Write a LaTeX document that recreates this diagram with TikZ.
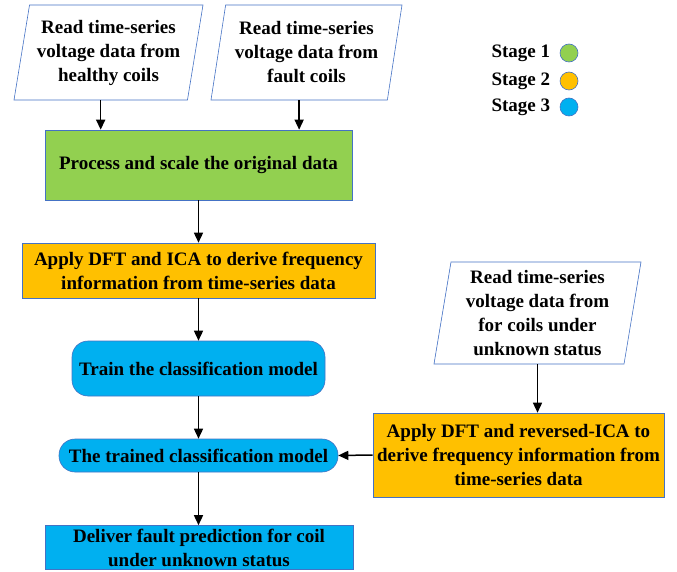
\documentclass[tikz,border=0pt]{standalone}
\usepackage{fontspec}
\setmainfont{Liberation Serif}
\usetikzlibrary{shapes.geometric,arrows.meta,positioning}
\definecolor{stageone}{HTML}{92D050}
\definecolor{stagetwo}{HTML}{FFC000}
\definecolor{stagethree}{HTML}{00B0F0}
\definecolor{edgeblue}{HTML}{4472C4}

\begin{document}
\begin{tikzpicture}[x=1pt,y=-1pt,
    font=\fontsize{19}{24}\selectfont\bfseries,
    inbox/.style={draw=edgeblue,line width=0.6pt,trapezium,trapezium left angle=77,trapezium right angle=103,trapezium stretches body,align=center,inner sep=1pt},
    box/.style={draw=edgeblue,line width=0.6pt,align=center,inner sep=0pt},
    dot/.style={circle,draw=edgeblue,line width=0.6pt,minimum size=18pt,inner sep=0pt},
    flow/.style={-{Triangle[length=10pt,width=9pt]},line width=1.5pt}]
    \useasboundingbox (0,0) rectangle (677,572);

    % input data
    \node[inbox,minimum width=189pt,minimum height=95pt] (healthy) at (108.5,52.5) {Read time-series\\voltage data from\\healthy coils};
    \node[inbox,minimum width=191pt,minimum height=95pt] (fault) at (306.5,52.5) {Read time-series\\voltage data from\\fault coils};
    \node[inbox,trapezium left angle=79,trapezium right angle=101,minimum width=207pt,minimum height=102pt] (unknown) at (537.5,313) {Read time-series\\voltage data from\\for coils under\\unknown status};

    % main flow
    \node[box,fill=stageone,minimum width=307pt,minimum height=70pt] (scale) at (198.5,165) {Process and scale the original data};
    \node[box,fill=stagetwo,minimum width=353pt,minimum height=55pt] (dft) at (198.5,270.5) {Apply DFT and ICA to derive frequency\\information from time-series data};
    \node[box,fill=stagethree,rounded corners=16pt,minimum width=253pt,minimum height=55pt] (train) at (198.5,368.5) {Train the classification model};
    \node[box,fill=stagethree,rounded corners=16pt,minimum width=279pt,minimum height=33pt] (trained) at (198.5,455.5) {The trained classification model};
    \node[box,fill=stagethree,minimum width=308pt,minimum height=44pt] (predict) at (199,547.5) {Deliver fault prediction for coil\\under unknown status};
    \node[box,fill=stagetwo,minimum width=291pt,minimum height=84pt] (rdft) at (518.5,455) {Apply DFT and reversed-ICA to\\derive frequency information from\\time-series data};

    % legend
    \node[dot,fill=stageone] (dot1) at (569,53) {};
    \node[dot,fill=stagetwo] (dot2) at (569,81) {};
    \node[dot,fill=stagethree] (dot3) at (569,107) {};
    \node[left=6pt of dot1] (stage1) {Stage 1};
    \node[left=6pt of dot2] (stage2) {Stage 2};
    \node[left=6pt of dot3] (stage3) {Stage 3};

    \draw[flow](healthy.bottom side)--(healthy.bottom side |- scale.north);
    \draw[flow](fault.bottom side)--(fault.bottom side |- scale.north);
    \draw[flow](scale.south)--(dft.north);
    \draw[flow](dft.south)--(train.north);
    \draw[flow](train.south)--(trained.north);
    \draw[flow](trained.south)--(trained.south |- predict.north);
    \draw[flow](unknown.south)--(unknown.south |- rdft.north);
    \draw[flow](rdft.west)--(trained.east);
\end{tikzpicture}
\end{document}
